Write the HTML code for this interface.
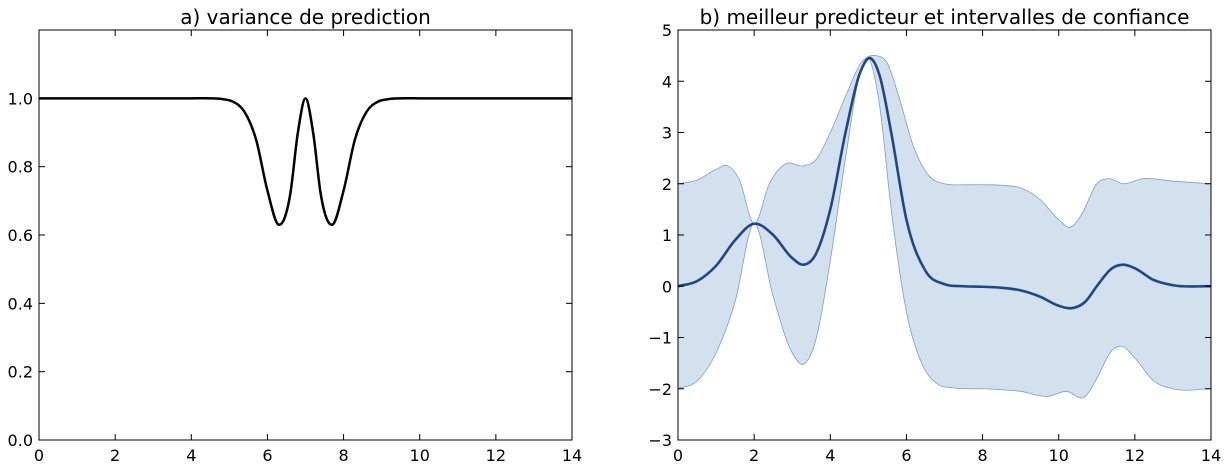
<!DOCTYPE html>
<html><head><meta charset="utf-8"><style>
body{margin:0;background:#fff;}
svg{display:block;font-family:"DejaVu Sans","Liberation Sans",sans-serif;}
</style></head><body>
<svg id="fig" width="1231" height="469" viewBox="0 0 1231 469" xmlns="http://www.w3.org/2000/svg"></svg>
<script>
// Left chart data
const varX=[0,1,2,3,4,4.5,4.8,5.1,5.4,5.7,6,6.3,6.6,6.8,7,7.2,7.4,7.7,8,8.3,8.6,8.9,9.2,9.5,10,11,12,13,14];
const varY=[1,1,1,1,1,1,0.998,0.99,0.96,0.88,0.73,0.63,0.72,0.9,1.0,0.9,0.72,0.63,0.73,0.88,0.96,0.99,0.998,1,1,1,1,1,1];
const leftXTicks=[0,2,4,6,8,10,12,14];
const leftYTicks=[0,0.2,0.4,0.6,0.8,1.0];
const leftYLabels=["0.0","0.2","0.4","0.6","0.8","1.0"];
// Right chart data
const meanX=[0,0.5,1,1.5,2,2.5,3,3.3,3.6,4,4.4,4.8,5.05,5.3,5.6,6,6.5,7,7.5,8,8.5,9,9.5,10,10.3,10.7,11,11.4,11.7,12,12.5,13,14];
const meanY=[0,0.1,0.4,0.9,1.22,1.0,0.55,0.42,0.6,1.5,3.0,4.2,4.45,4.1,3.0,1.3,0.3,0.04,0,-0.01,-0.03,-0.08,-0.2,-0.38,-0.43,-0.3,0,0.35,0.42,0.35,0.12,0.02,0];
const upX=[0,0.5,1,1.3,1.6,2,2.4,2.8,3.3,3.6,4,4.4,4.8,5.2,5.5,5.8,6.2,6.6,7,7.5,8,8.5,9,9.5,10,10.3,10.6,11,11.3,11.7,12.2,13,14];
const upY=[2,2.07,2.28,2.35,2.1,1.22,2.0,2.38,2.35,2.45,3.0,3.7,4.35,4.5,4.35,3.7,2.7,2.15,2.0,1.98,1.98,1.97,1.92,1.7,1.3,1.15,1.4,2.0,2.1,2.0,2.1,2.05,2.0];
const loX=[0,0.5,1,1.5,2,2.5,3,3.3,3.6,4,4.4,4.8,5.0,5.3,5.6,6,6.4,6.8,7.2,7.6,8,8.5,9,9.7,10.2,10.7,11,11.4,11.7,12,12.5,13,14];
const loY=[-2,-1.85,-1.3,-0.3,1.22,-0.2,-1.3,-1.52,-1.1,0.5,2.5,4.2,4.45,3.5,1.5,-0.5,-1.5,-1.9,-1.98,-2.0,-2.0,-2.02,-2.05,-2.15,-2.05,-2.15,-1.8,-1.25,-1.18,-1.4,-1.85,-2.0,-2.0];
const rightXTicks=[0,2,4,6,8,10,12,14];
const rightYTicks=[-3,-2,-1,0,1,2,3,4,5];

const NS="http://www.w3.org/2000/svg";
const svg=document.getElementById('fig');
function el(t,a,p){const e=document.createElementNS(NS,t);for(const k in a)e.setAttribute(k,a[k]);(p||svg).appendChild(e);return e;}
// Hermite spline with finite-difference tangents
function tangents(pts){
  const n=pts.length,m=[];
  for(let i=0;i<n;i++){
    if(i===0)m.push((pts[1][1]-pts[0][1])/(pts[1][0]-pts[0][0]));
    else if(i===n-1)m.push((pts[n-1][1]-pts[n-2][1])/(pts[n-1][0]-pts[n-2][0]));
    else{const d0=(pts[i][1]-pts[i-1][1])/(pts[i][0]-pts[i-1][0]),d1=(pts[i+1][1]-pts[i][1])/(pts[i+1][0]-pts[i][0]);
      const h0=pts[i][0]-pts[i-1][0],h1=pts[i+1][0]-pts[i][0];
      m.push((d0*h1+d1*h0)/(h0+h1));}
  }
  return m;
}
function segs(pts,m,rev){
  let d="";
  if(!rev){for(let i=0;i<pts.length-1;i++){const h=(pts[i+1][0]-pts[i][0])/3;
    d+=" C"+(pts[i][0]+h)+","+(pts[i][1]+m[i]*h)+" "+(pts[i+1][0]-h)+","+(pts[i+1][1]-m[i+1]*h)+" "+pts[i+1][0]+","+pts[i+1][1];}}
  else{for(let i=pts.length-1;i>0;i--){const h=(pts[i][0]-pts[i-1][0])/3;
    d+=" C"+(pts[i][0]-h)+","+(pts[i][1]-m[i]*h)+" "+(pts[i-1][0]+h)+","+(pts[i-1][1]+m[i-1]*h)+" "+pts[i-1][0]+","+pts[i-1][1];}}
  return d;
}
function smooth(pts){return "M"+pts[0][0]+","+pts[0][1]+segs(pts,tangents(pts),false);}
function axes(L,T,R,B,x0,x1,y0,y1,xt,yt,ylab,title,pre){
  const sx=v=>L+(v-x0)/(x1-x0)*(R-L), sy=v=>B-(v-y0)/(y1-y0)*(B-T);
  const g=el('g',{});
  
  
  xt.forEach(v=>{const x=sx(v);el('line',{x1:x,x2:x,y1:B,y2:B-6,stroke:'#000'},g);el('line',{x1:x,x2:x,y1:T,y2:T+6,stroke:'#000'},g);
    const t=el('text',{x:x,y:B+21,'text-anchor':'middle','font-size':16},g);t.textContent=String(v);
    
    });
  yt.forEach((v,i)=>{const y=sy(v);el('line',{x1:L,x2:L+6,y1:y,y2:y,stroke:'#000'},g);el('line',{x1:R,x2:R-6,y1:y,y2:y,stroke:'#000'},g);
    const t=el('text',{x:L-6,y:y+6,'text-anchor':'end','font-size':16},g);t.textContent=ylab?ylab[i]:String(v).replace('-','\u2212');
    
    });
  const tt=el('text',{x:(L+R)/2,y:T-6,'text-anchor':'middle','font-size':20},g);tt.textContent=title;
  
  
  return {sx,sy,g};
}
// Left
const A=axes(39,30,572,440,0,14,0,1.2,leftXTicks,leftYTicks,leftYLabels,"a) variance de prediction","left");
const vp=el('path',{d:smooth(varX.map((x,i)=>[A.sx(x),A.sy(varY[i])])),fill:'none',stroke:'#000','stroke-width':2.5});


const f1=el('rect',{x:39,y:30,width:533,height:410,fill:'none',stroke:'#000','stroke-width':1});


// Right
const B=axes(678,30,1211,440,0,14,-3,5,rightXTicks,rightYTicks,null,"b) meilleur predicteur et intervalles de confiance","right");
const up=upX.map((x,i)=>[B.sx(x),B.sy(upY[i])]);
const lo=loX.map((x,i)=>[B.sx(x),B.sy(loY[i])]);
const upD=smooth(up), loD=smooth(lo);
const last=lo[lo.length-1];
const band=el('path',{d:upD+" L"+last[0]+","+last[1]+segs(lo,tangents(lo),true)+" Z",fill:'#d3e1ef',stroke:'none'});


const ue=el('path',{d:upD,fill:'none',stroke:'#7d9cc8','stroke-width':0.8});


const le=el('path',{d:loD,fill:'none',stroke:'#7d9cc8','stroke-width':0.8});


const mp=el('path',{d:smooth(meanX.map((x,i)=>[B.sx(x),B.sy(meanY[i])])),fill:'none',stroke:'#1f4788','stroke-width':2.6});


svg.appendChild(B.g);
const f2=el('rect',{x:678,y:30,width:533,height:410,fill:'none',stroke:'#000','stroke-width':1});


</script>
</body></html>
